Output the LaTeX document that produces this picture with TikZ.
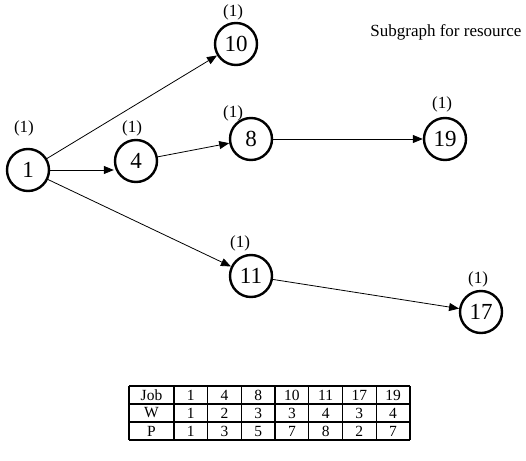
\documentclass[tikz,border=0pt]{standalone}
\usepackage{fontspec}
\setmainfont{Liberation Serif}
\usetikzlibrary{arrows.meta,positioning}

\begin{document}
\begin{tikzpicture}[x=1pt, y=-1pt,
    job/.style={circle, draw, line width=2.4pt, minimum size=42pt, inner sep=0pt,
      font=\fontsize{23}{23}\selectfont},
    wt/.style={font=\fontsize{17}{17}\selectfont},
    arc/.style={-{Triangle[length=10pt,width=8pt]}, line width=0.8pt},
    cell/.style={font=\fontsize{15.5}{15.5}\selectfont}
  ]
    \useasboundingbox (0,0) rectangle (526,460);

    % Job nodes
    \node[job] (n1)  at (28,170)  {1};
    \node[job] (n4)  at (136,161) {4};
    \node[job] (n8)  at (251,139) {8};
    \node[job] (n10) at (236,44)  {10};
    \node[job] (n19) at (445,139) {19};
    \node[job] (n11) at (251,276) {11};
    \node[job] (n17) at (481,312) {17};

    % Weights
    \node[wt] (w1)  at (24,128)  {(1)};
    \node[wt] (w4)  at (132,128) {(1)};
    \node[wt] (w8)  at (233,113) {(1)};
    \node[wt] (w10) at (233,12)  {(1)};
    \node[wt] (w19) at (442,104) {(1)};
    \node[wt] (w11) at (240,243) {(1)};
    \node[wt] (w17) at (478,279) {(1)};

    \node[wt, anchor=east] (title) at (525,32) {Subgraph for resource};

    % Arcs
    \draw[arc] (n1) -- (n10);
    \draw[arc] (n1.east) -- (n1.east -| n4.west);
    \draw[arc] (n4) -- (n8);
    \draw[arc] (n8) -- (n19);
    \draw[arc] (n1) -- (n11);
    \draw[arc] (n11) -- (n17);

    % Table
    \foreach \y in {386,404,422,440}
      \draw[line width=1.3pt] (129,\y) -- (410,\y);
    \foreach \x in {129,174,207.7,241.4,275.1,308.8,342.5,376.2,409.9}
      \draw[line width=1.3pt] (\x,386) -- (\x,440);
    \node[cell] (hJob) at (151.5,395) {Job};
    \node[cell] (hW)   at (151.5,413) {W};
    \node[cell] (hP)   at (151.5,431) {P};
    \foreach \j/\w/\p [count=\i] in {1/1/1, 4/2/3, 8/3/5, 10/3/7, 11/4/8, 17/3/2, 19/4/7} {
      \node[cell] (j\i) at (174+33.7*\i-16.85,395) {\j};
      \node[cell] (w\i) at (174+33.7*\i-16.85,413) {\w};
      \node[cell] (p\i) at (174+33.7*\i-16.85,431) {\p};
    }
  \end{tikzpicture}
\end{document}
